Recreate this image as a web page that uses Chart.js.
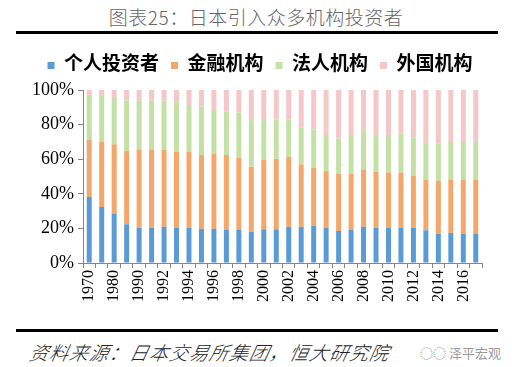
<!DOCTYPE html>
<html>
<head>
<meta charset="utf-8">
<script src="https://cdn.jsdelivr.net/npm/chart.js@4"></script>
<style>
  body { margin: 0; width: 512px; height: 367px; background: #fff; position: relative; overflow: hidden; }
  .title { position: absolute; top: 3px; left: 0; width: 512px; text-align: center; font-family: "Noto Sans CJK SC", sans-serif; font-weight: 300; font-size: 19px; color: #666; letter-spacing: 0.5px; }
  .rule { position: absolute; left: 16px; width: 482px; height: 3px; background: #000; }
  .source { position: absolute; left: 30px; top: 338px; font-family: "Noto Sans CJK SC", sans-serif; font-weight: 300; font-style: italic; font-size: 19px; color: #222; transform: skewX(-12deg); letter-spacing: 1px; }
  .logo { position: absolute; left: 420px; top: 343px; font-family: "Noto Sans CJK SC", sans-serif; font-size: 13px; color: #999; }
  #wrap { position: absolute; top: 40px; left: 0; width: 512px; height: 282px; }
</style>
</head>
<body>
<div class="title">图表25：日本引入众多机构投资者</div>
<div class="rule" style="top:31px"></div>
<div id="wrap"><canvas id="chart"></canvas></div>
<div class="rule" style="top:329px"></div>
<div class="source">资料来源：日本交易所集团，恒大研究院</div>
<div class="logo">◌◌ 泽平宏观</div>
<script>
// years on the x axis
const years = ['1970', '1975', '1980', '1985', '1990', '1991', '1992', '1993', '1994', '1995',
  '1996', '1997', '1998', '1999', '2000', '2001', '2002', '2003', '2004', '2005', '2006',
  '2007', '2008', '2009', '2010', '2011', '2012', '2013', '2014', '2015', '2016', '2017'];

// shares in %
const individual = [38.2, 32.4, 28.6, 22.4, 20.3, 20.3, 20.9, 20.3, 20.3, 19.7, 19.7, 19.1, 19.1, 18.0,
  19.5, 19.5, 20.9, 20.9, 21.4, 20.5, 18.5, 19.3, 20.9, 20.3, 20.3, 20.3, 20.3, 18.9, 17.0, 17.4, 17.0, 17.0];
const financial = [33.2, 37.6, 40.0, 42.3, 45.4, 45.4, 44.4, 44.0, 44.0, 42.7, 43.3, 43.3, 41.7, 37.6,
  40.0, 40.7, 40.5, 36.1, 33.6, 32.6, 33.2, 32.4, 33.2, 32.4, 32.0, 32.0, 30.1, 29.4, 30.5, 30.9, 31.3, 31.3];
const corporate = [25.6, 27.0, 27.4, 29.3, 28.3, 28.3, 28.7, 28.7, 27.0, 27.9, 25.4, 25.0, 26.1, 27.0,
  23.1, 22.8, 21.6, 21.4, 22.2, 20.9, 20.3, 22.3, 22.7, 21.3, 21.7, 22.6, 22.0, 21.2, 21.6, 22.2, 22.2, 21.6];
const foreign = [3.0, 3.0, 4.0, 6.0, 6.0, 6.0, 6.0, 7.0, 8.7, 9.7, 11.6, 12.6, 13.1, 17.4,
  17.4, 17.0, 17.0, 21.6, 22.8, 26.0, 28.0, 26.0, 23.2, 26.0, 26.0, 25.1, 27.6, 30.5, 30.9, 29.5, 29.5, 30.1];

const seriesNames = ['个人投资者', '金融机构', '法人机构', '外国机构'];
const seriesColors = ['#5B9BD5', '#F4A76A', '#C5E0A5', '#F4C7C8'];

const serif = '"Liberation Serif", "Noto Sans CJK SC", serif';

function makeSet(i, values) {
  return {
    label: seriesNames[i],
    data: values,
    backgroundColor: seriesColors[i],
    borderWidth: 0,
    barPercentage: 0.4,
    categoryPercentage: 1
  };
}

// a bit more room under the legend, and nudge it right
const legendGap = {
  id: 'legendGap',
  beforeInit(chart) {
    const legend = chart.legend;
    const fit = legend.fit;
    legend.fit = function() {
      fit.bind(legend)();
      this.height += 5;
    };
    const draw = legend.draw;
    legend.draw = function() {
      const ctx = chart.ctx;
      ctx.save();
      ctx.translate(14, 0);
      draw.bind(legend)();
      ctx.restore();
    };
  }
};

new Chart(document.getElementById('chart'), {
  type: 'bar',
  data: {
    labels: years,
    datasets: [
      makeSet(0, individual),
      makeSet(1, financial),
      makeSet(2, corporate),
      makeSet(3, foreign)
    ]
  },
  plugins: [legendGap],
  options: {
    responsive: true,
    maintainAspectRatio: false,
    animation: false,
    layout: { padding: { top: 4, right: 30, left: 10, bottom: 0 } },
    plugins: {
      tooltip: { enabled: false },
      legend: {
        position: 'top',
        labels: {
          boxWidth: 7,
          boxHeight: 7,
          padding: 12,
          color: '#000',
          font: { family: serif, size: 19, weight: 'bold' }
        }
      }
    },
    scales: {
      x: {
        stacked: true,
        grid: { display: true, drawOnChartArea: false, drawTicks: true, tickLength: 5, color: '#868686', offset: true },
        border: { color: '#868686', width: 1 },
        ticks: {
          color: '#000',
          autoSkip: false,
          minRotation: 90,
          maxRotation: 90,
          padding: 2,
          font: { family: serif, size: 16 },
          callback: function(val, idx) { return idx % 2 === 0 ? this.getLabelForValue(val) : ''; }
        },
        afterFit: function(scale) { scale.height = 59; }
      },
      y: {
        stacked: true,
        min: 0,
        max: 100,
        grid: { display: true, drawOnChartArea: false, drawTicks: true, tickLength: 5, color: '#868686' },
        border: { color: '#868686', width: 1 },
        ticks: {
          stepSize: 20,
          color: '#000',
          padding: 4,
          font: { family: serif, size: 18 },
          callback: v => v + '%'
        },
        afterFit: function(scale) { scale.width = 73; }
      }
    }
  }
});
</script>
</body>
</html>
